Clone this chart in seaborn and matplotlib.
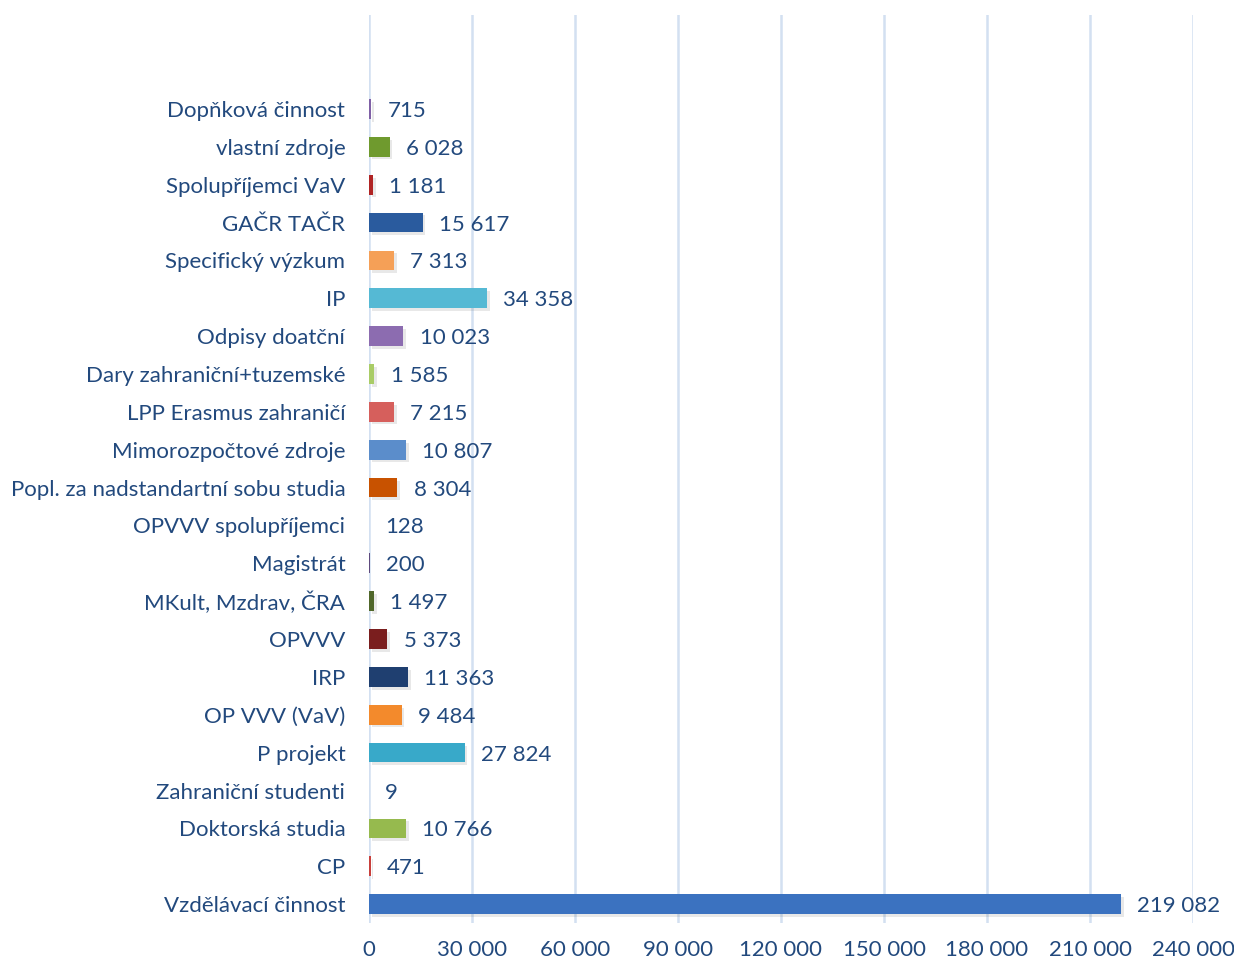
import matplotlib
matplotlib.use("Agg")
import matplotlib.pyplot as plt
import matplotlib.patheffects as pe
import seaborn as sns
import pandas as pd

# data (top to bottom as shown)
categories = [
    "Dopňková činnost", "vlastní zdroje", "Spolupříjemci VaV", "GAČR TAČR",
    "Specifický výzkum", "IP", "Odpisy doatční", "Dary zahraniční+tuzemské",
    "LPP Erasmus zahraničí", "Mimorozpočtové zdroje", "Popl. za nadstandartní sobu studia",
    "OPVVV spolupříjemci", "Magistrát", "MKult, Mzdrav, ČRA", "OPVVV", "IRP",
    "OP VVV (VaV)", "P projekt", "Zahraniční studenti", "Doktorská studia", "CP",
    "Vzdělávací činnost",
]
values = [715, 6028, 1181, 15617, 7313, 34358, 10023, 1585, 7215, 10807, 8304,
          128, 200, 1497, 5373, 11363, 9484, 27824, 9, 10766, 471, 219082]
bar_colors = [
    "#7F60A6", "#6F9A2E", "#B02424", "#2A5B9E", "#F5A057", "#55B9D4",
    "#8C6CB0", "#A9CC66", "#D65F5C", "#5B8DCB", "#C85200",
    "#2E8AA6", "#5E4A7E", "#50672A", "#7A1E1E", "#1F3F70",
    "#F38A2C", "#38A9C9", "#7F60A6", "#96BA4E", "#C8403C",
    "#3B72C0",
]
xticks = [0, 30000, 60000, 90000, 120000, 150000, 180000, 210000, 240000]

df = pd.DataFrame({"category": categories, "value": values})

text_color = "#22497D"
plt.rcParams["font.family"] = ["Lato", "DejaVu Sans"]

fig = plt.figure(figsize=(12.34, 9.64), dpi=100)
ax = fig.add_axes([0.299, 0.0425, 0.6678, 0.9419])

sns.barplot(data=df, y="category", x="value", hue="category",
            palette=bar_colors, saturation=1, orient="h", width=0.52,
            legend=False, ax=ax, zorder=3)

# soft Excel-like shadow
for bar in ax.patches:
    bar.set_path_effects([pe.SimplePatchShadow(offset=(2, -2), alpha=0.12, shadow_rgbFace="#444444"),
                          pe.Normal()])

for i, v in enumerate(values):
    ax.text(v + 4700, i, f"{v:,}".replace(",", " "), va="center_baseline", ha="left",
            fontsize=16, color=text_color)

ax.set_xlim(0, 240000)
ax.set_ylim(21.5, -2.48)
ax.set_xticks(xticks)
ax.set_xticklabels([f"{t:,}".replace(",", " ") for t in xticks])
ax.grid(axis="x", color="#D3E0F1", linewidth=1.8, zorder=0)
ax.grid(axis="y", visible=False)
ax.set_axisbelow(True)
for s in ax.spines.values():
    s.set_visible(False)
ax.tick_params(axis="both", length=0, labelsize=16, labelcolor=text_color)
ax.tick_params(axis="y", pad=17)
ax.tick_params(axis="x", pad=12)
for lbl in ax.get_yticklabels():
    lbl.set_verticalalignment("center_baseline")
ax.set_xlabel("")
ax.set_ylabel("")

fig.savefig("out.png", dpi=100)
